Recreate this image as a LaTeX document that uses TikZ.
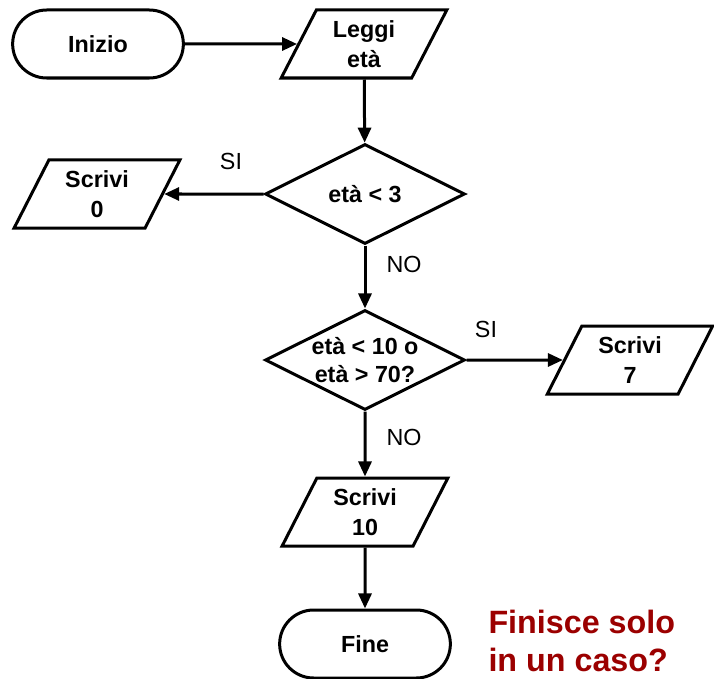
\documentclass[tikz,border=0pt]{standalone}
\usepackage{fontspec}
\setmainfont{Liberation Sans}
\usetikzlibrary{arrows.meta,shapes.geometric,shapes.misc}
\definecolor{darkred}{RGB}{155,0,0}
\begin{document}
\begin{tikzpicture}[x=0.5bp, y=-0.5bp, line width=1.5bp,
    every node/.style={font=\fontsize{11.7}{15}\selectfont},
    terminal/.style={draw, rounded rectangle, minimum width=92bp, minimum height=34bp, font=\fontsize{11.7}{15}\selectfont\bfseries},
    io/.style={draw, trapezium, trapezium left angle=64, trapezium right angle=116, trapezium stretches=true,
        minimum width=83bp, minimum height=34bp, inner sep=0pt, align=center, font=\fontsize{11.7}{15}\selectfont\bfseries},
    test/.style={draw, diamond, aspect=2, minimum width=100bp, minimum height=50bp, inner sep=0pt,
        align=center, font=\fontsize{11.7}{14}\selectfont\bfseries},
    flow/.style={-{Triangle[length=7.5bp,width=6.5bp]}}]
    \useasboundingbox (0,0) rectangle (714,679);
    % Blocks of the flow chart
    \node[terminal] (inizio) at (98,44) {Inizio};
    \node[io] (leggi) at (364,44) {Leggi\\età};
    \node[test] (eta3) at (365,194) {età < 3};
    \node[io] (scrivi0) at (97,194) {Scrivi\\0};
    \node[test] (eta10) at (365,360) {età < 10 o\\età > 70?};
    \node[io] (scrivi7) at (630,360) {Scrivi\\7};
    \node[io] (scrivi10) at (365,512) {Scrivi\\10};
    \node[terminal] (fine) at (365,644) {Fine};
    % Branch labels
    \node (si1) at (231,161) {SI};
    \node (no1) at (404,264) {NO};
    \node (si2) at (486,329) {SI};
    \node (no2) at (404,437) {NO};
    % Question
    \node[anchor=west, align=left, inner sep=0pt, text=darkred,
        font=\fontsize{16.2}{19}\selectfont\bfseries] (domanda) at (487,641) {Finisce solo\\in un caso?};
    % Connectors
    \draw[flow] (inizio) -- (leggi);
    \draw[flow] (leggi) -- (eta3);
    \draw[flow] (eta3.west) -- (scrivi0);
    \draw[flow] (eta3) -- (eta10);
    \draw[flow] (eta10.east) -- (scrivi7);
    \draw[flow] (eta10) -- (scrivi10);
    \draw[flow] (scrivi10) -- (fine);
\end{tikzpicture}
\end{document}
